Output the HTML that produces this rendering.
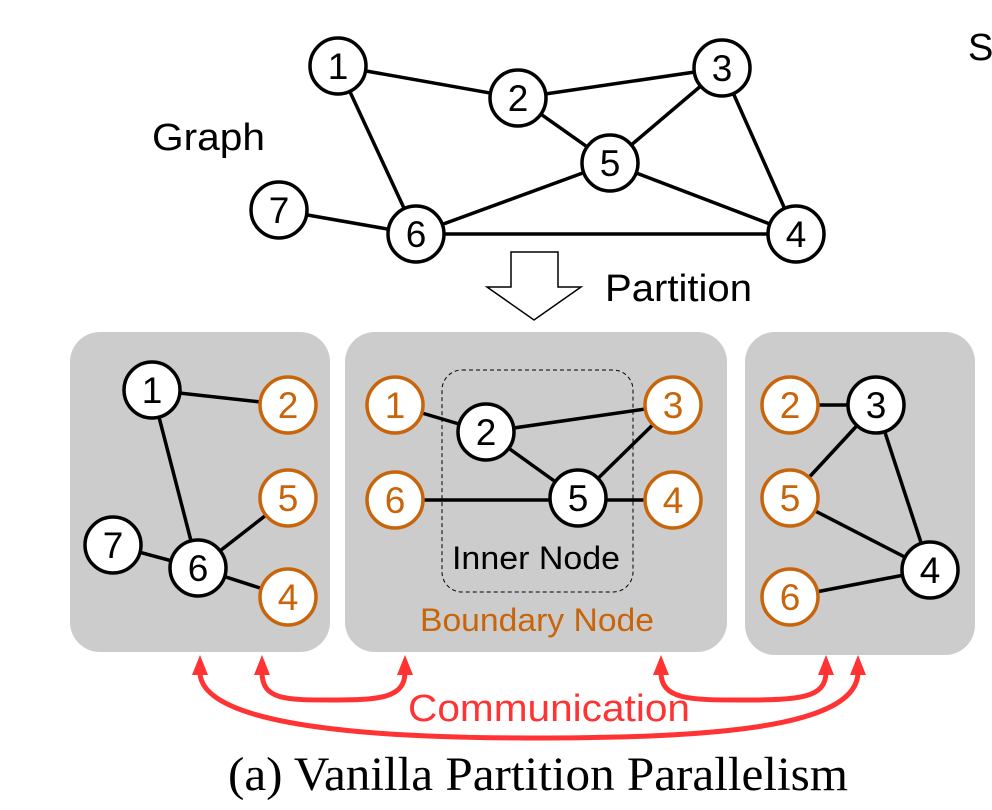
<!DOCTYPE html>
<html><head><style>body{margin:0;background:#fff}svg{display:block}</style></head><body>
<svg width="992" height="810" viewBox="0 0 992 810" xmlns="http://www.w3.org/2000/svg" font-family="Liberation Sans, sans-serif">
<text x="968" y="60" font-size="38">S</text>
<text x="152" y="150" font-size="38" textLength="113" lengthAdjust="spacingAndGlyphs">Graph</text>
<text x="605" y="301" font-size="38" textLength="147" lengthAdjust="spacingAndGlyphs">Partition</text>
<polygon points="511,252 558,252 558,287 581,287 534,320 487,287 511,287" fill="#fff" stroke="#000" stroke-width="1.5"/>
<g stroke="#000" stroke-width="3.5">
<line x1="338" y1="66" x2="518" y2="98"/><line x1="338" y1="66" x2="416" y2="234"/>
<line x1="518" y1="98" x2="722" y2="68"/><line x1="518" y1="98" x2="610" y2="163"/>
<line x1="722" y1="68" x2="610" y2="163"/><line x1="722" y1="68" x2="796" y2="234"/>
<line x1="610" y1="163" x2="796" y2="234"/><line x1="610" y1="163" x2="416" y2="234"/>
<line x1="416" y1="234" x2="796" y2="234"/><line x1="279" y1="210" x2="416" y2="234"/>
</g>
<g fill="#cccccc">
<rect x="70" y="332" width="260" height="320" rx="30"/>
<rect x="345" y="332" width="382" height="320" rx="30"/>
<rect x="745" y="332" width="230" height="323" rx="30"/>
</g>
<rect x="442" y="370" width="191" height="222" rx="20" fill="none" stroke="#000" stroke-width="1" stroke-dasharray="4,3"/>
<g stroke="#000" stroke-width="3.5">
<line x1="152" y1="390" x2="288" y2="405"/><line x1="152" y1="390" x2="198" y2="568"/>
<line x1="113" y1="545" x2="198" y2="568"/><line x1="198" y1="568" x2="288" y2="498"/><line x1="198" y1="568" x2="288" y2="597"/>
<line x1="395" y1="405" x2="486" y2="432"/><line x1="486" y1="432" x2="673" y2="405"/><line x1="486" y1="432" x2="578" y2="498"/>
<line x1="578" y1="498" x2="673" y2="405"/><line x1="395" y1="500" x2="673" y2="500"/>
<line x1="790" y1="405" x2="876" y2="405"/><line x1="876" y1="405" x2="790" y2="498"/><line x1="876" y1="405" x2="930" y2="570"/>
<line x1="790" y1="498" x2="930" y2="570"/><line x1="790" y1="597" x2="930" y2="570"/>
</g>
<g stroke-width="3.5" font-size="37" text-anchor="middle">
<g stroke="#000" fill="#fff">
<circle cx="338" cy="66" r="28"/><circle cx="518" cy="98" r="28"/><circle cx="722" cy="68" r="28"/>
<circle cx="610" cy="163" r="28"/><circle cx="796" cy="234" r="28"/><circle cx="416" cy="234" r="28"/><circle cx="279" cy="210" r="28"/>
<circle cx="152" cy="390" r="28"/><circle cx="113" cy="545" r="28"/><circle cx="198" cy="568" r="28"/>
<circle cx="486" cy="432" r="28"/><circle cx="578" cy="498" r="28"/>
<circle cx="876" cy="405" r="28"/><circle cx="930" cy="570" r="28"/>
</g>
<g stroke="#c8650a" fill="#fff">
<circle cx="288" cy="405" r="28"/><circle cx="288" cy="498" r="28"/><circle cx="288" cy="597" r="28"/>
<circle cx="395" cy="405" r="28"/><circle cx="673" cy="405" r="28"/><circle cx="395" cy="500" r="28"/><circle cx="673" cy="500" r="28"/>
<circle cx="790" cy="405" r="28"/><circle cx="790" cy="498" r="28"/><circle cx="790" cy="597" r="28"/>
</g>
<g fill="#000" stroke="none">
<text x="338" y="79">1</text><text x="518" y="111">2</text><text x="722" y="81">3</text><text x="610" y="176">5</text>
<text x="796" y="247">4</text><text x="416" y="247">6</text><text x="279" y="223">7</text>
<text x="152" y="403">1</text><text x="113" y="558">7</text><text x="198" y="581">6</text>
<text x="486" y="445">2</text><text x="578" y="511">5</text><text x="876" y="418">3</text><text x="930" y="583">4</text>
</g>
<g fill="#c8650a" stroke="none">
<text x="288" y="418">2</text><text x="288" y="511">5</text><text x="288" y="610">4</text>
<text x="395" y="418">1</text><text x="673" y="418">3</text><text x="395" y="513">6</text><text x="673" y="513">4</text>
<text x="790" y="418">2</text><text x="790" y="511">5</text><text x="790" y="610">6</text>
</g>
</g>
<text x="452" y="569" font-size="32" textLength="168" lengthAdjust="spacingAndGlyphs">Inner Node</text>
<text x="420" y="631" font-size="32" fill="#c8650a" textLength="234" lengthAdjust="spacingAndGlyphs">Boundary Node</text>
<g fill="none" stroke="#ff3333" stroke-width="5">
<path d="M262,672 C262,700 285,700 333,700 C380,700 405,698 405,672"/>
<path d="M661,672 C661,700 690,700 743,700 C800,700 826,698 826,672"/>
<path d="M200,672 C200,730 400,738 529,738 C700,738 858,730 858,672"/>
</g>
<g fill="#ff3333">
<polygon points="200,655 192,675 208,675"/><polygon points="262,655 254,675 270,675"/><polygon points="405,655 397,675 413,675"/>
<polygon points="661,655 653,675 669,675"/><polygon points="826,655 818,675 834,675"/><polygon points="858,655 850,675 866,675"/>
</g>
<text x="408" y="721" font-size="38" fill="#ff3333" textLength="282" lengthAdjust="spacingAndGlyphs">Communication</text>
<text x="228" y="790" font-size="48" font-family="Liberation Serif, serif" textLength="620" lengthAdjust="spacingAndGlyphs">(a) Vanilla Partition Parallelism</text>
</svg>
</body></html>
